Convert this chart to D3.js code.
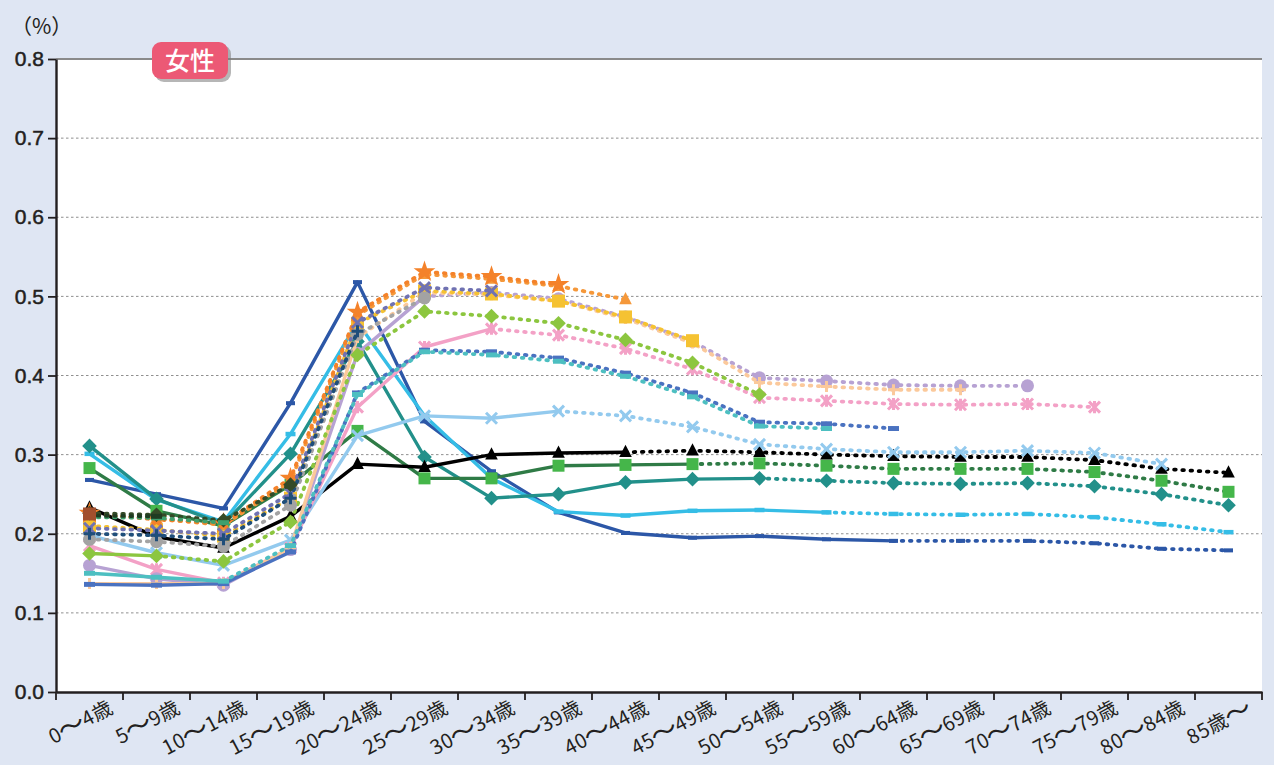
<!DOCTYPE html>
<html>
<head>
<meta charset="utf-8">
<script src="https://cdn.jsdelivr.net/npm/d3@7"></script>
<style>
  html, body { margin: 0; padding: 0; background: #dfe6f3; }
  svg { display: block; }
</style>
</head>
<body>
<svg id="chart" width="1274" height="765"></svg>
<script>
// ---------------- data ----------------
const categories = ["0〜4歳","5〜9歳","10〜14歳","15〜19歳","20〜24歳","25〜29歳","30〜34歳","35〜39歳","40〜44歳",
  "45〜49歳","50〜54歳","55〜59歳","60〜64歳","65〜69歳","70〜74歳","75〜79歳","80〜84歳","85歳〜"];
const yTicks = [0, 0.1, 0.2, 0.3, 0.4, 0.5, 0.6, 0.7, 0.8];
const unitLabel = "（%）";
const panelLabel = "女性";

const series01 = [0.268,0.250,0.232,0.365,0.518,0.342,0.279,0.227,0.201,0.195,0.197,0.193,0.191,0.191,0.191,0.188,0.181,0.179];
const series02 = [0.301,0.243,0.215,0.326,0.467,0.349,0.270,0.228,0.223,0.229,0.230,0.227,0.225,0.224,0.225,0.221,0.212,0.202];
const series03 = [0.311,0.244,0.212,0.301,0.443,0.297,0.245,0.250,0.265,0.269,0.270,0.267,0.264,0.263,0.264,0.260,0.250,0.236];
const series04 = [0.283,0.229,0.210,0.262,0.330,0.270,0.270,0.286,0.287,0.288,0.289,0.286,0.282,0.282,0.282,0.278,0.267,0.253];
const series05 = [0.233,0.196,0.182,0.222,0.288,0.284,0.300,0.302,0.303,0.305,0.303,0.300,0.298,0.297,0.297,0.293,0.282,0.277];
const series06 = [0.198,0.176,0.160,0.192,0.324,0.349,0.346,0.355,0.349,0.335,0.313,0.307,0.303,0.303,0.305,0.302,0.288,null];
const series07 = [0.185,0.155,0.138,0.182,0.360,0.436,0.459,0.451,0.434,0.408,0.372,0.368,0.364,0.363,0.364,0.360,null,null];
const series08 = [0.160,0.143,0.135,0.180,0.428,0.500,0.505,0.497,0.474,0.443,0.397,0.393,0.388,0.387,0.387,null,null,null];
const series09 = [0.137,0.137,0.137,0.182,0.448,0.505,0.502,0.494,0.472,0.441,0.391,0.386,0.382,0.382,null,null,null,null];
const series10 = [0.136,0.135,0.137,0.177,0.378,0.432,0.430,0.422,0.403,0.378,0.341,0.339,0.333,null,null,null,null,null];
const series11 = [0.150,0.145,0.140,0.185,0.376,0.430,0.426,0.418,0.399,0.373,0.336,0.333,null,null,null,null,null,null];
const series12 = [0.175,0.172,0.165,0.215,0.426,0.481,0.475,0.466,0.445,0.416,0.376,null,null,null,null,null,null,null];
const series13 = [0.210,0.205,0.197,0.245,0.466,0.507,0.503,0.494,0.474,0.444,null,null,null,null,null,null,null,null];
const series14 = [0.224,0.219,0.211,0.266,0.476,0.528,0.522,0.513,0.496,null,null,null,null,null,null,null,null,null];
const series15 = [0.226,0.218,0.213,0.270,0.480,0.531,0.525,0.515,null,null,null,null,null,null,null,null,null,null];
const series16 = [0.207,0.204,0.200,0.251,0.467,0.511,0.507,null,null,null,null,null,null,null,null,null,null,null];
const series17 = [0.193,0.190,0.184,0.236,0.452,0.498,null,null,null,null,null,null,null,null,null,null,null,null];
const series18 = [0.200,0.198,0.193,0.245,0.456,null,null,null,null,null,null,null,null,null,null,null,null,null];
const series19 = [0.226,0.224,0.217,0.262,null,null,null,null,null,null,null,null,null,null,null,null,null,null];
const series20 = [0.221,0.220,0.214,null,null,null,null,null,null,null,null,null,null,null,null,null,null,null];
const series21 = [0.223,0.222,null,null,null,null,null,null,null,null,null,null,null,null,null,null,null,null];
const series22 = [0.225,null,null,null,null,null,null,null,null,null,null,null,null,null,null,null,null,null];
// index of last observed (solid) age group for each series; -1 = all projected
const observedLast = [12,11,10,9,8,7,6,5,4,3,2,1,0,-1,-1,-1,-1,-1,-1,-1,-1,-1];

// ---------------- styles ----------------
const styles = [
  {data: series01, line:"#2c57a7", mfill:"#2c57a7", marker:"dash",     ms: 9},
  {data: series02, line:"#35bde6", mfill:"#35bde6", marker:"dash",     ms: 10},
  {data: series03, line:"#22908a", mfill:"#22908a", marker:"diamond",  ms: 12},
  {data: series04, line:"#2f7b46", mfill:"#45b64a", marker:"square",   ms: 12},
  {data: series05, line:"#000000", mfill:"#000000", marker:"triangle", ms: 12},
  {data: series06, line:"#93caee", mfill:"#93caee", marker:"x",        ms: 11},
  {data: series07, line:"#f3a1c6", mfill:"#f3a1c6", marker:"asterisk", ms: 11},
  {data: series08, line:"#b7a2d3", mfill:"#b7a2d3", marker:"circle",   ms: 13},
  {data: series09, line:"#fbc99b", mfill:"#fbc99b", marker:"plus",     ms: 11},
  {data: series10, line:"#4a72c0", mfill:"#4a72c0", marker:"dash",     ms: 11},
  {data: series11, line:"#4dbfc1", mfill:"#4dbfc1", marker:"dash",     ms: 11},
  {data: series12, line:"#8cc63f", mfill:"#8cc63f", marker:"diamond",  ms: 12},
  {data: series13, line:"#f5c232", mfill:"#f5c232", marker:"square",   ms: 13},
  {data: series14, line:"#f5983a", mfill:"#f5983a", marker:"triangle", ms: 12},
  {data: series15, line:"#f4822a", mfill:"#f4822a", marker:"star",     ms: 14},
  {data: series16, line:"#7072b2", mfill:"#7072b2", marker:"x",        ms: 11},
  {data: series17, line:"#a3a3a3", mfill:"#a3a3a3", marker:"circle",   ms: 13},
  {data: series18, line:"#1f4e7a", mfill:"#1f4e7a", marker:"plus",     ms: 12},
  {data: series19, line:"#344a27", mfill:"#344a27", marker:"diamond",  ms: 12},
  {data: series20, line:"#3fa06d", mfill:"#3fa06d", marker:"dash",     ms: 11},
  {data: series21, line:"#1f3c22", mfill:"#1f3c22", marker:"dash",     ms: 11},
  {data: series22, line:"#a24f2d", mfill:"#a24f2d", marker:"square",   ms: 13}
];

// ---------------- layout ----------------
const W = 1274, H = 765;
const plot = {left: 56, right: 1262, top: 59, bottom: 692};
const svg = d3.select("#chart");

svg.append("rect").attr("x",0).attr("y",0).attr("width",W).attr("height",H).attr("fill","#dfe6f3");
svg.append("rect").attr("x",plot.left).attr("y",plot.top)
  .attr("width",plot.right-plot.left).attr("height",plot.bottom-plot.top).attr("fill","#ffffff");

const x = d3.scaleBand().domain(categories).range([plot.left, plot.right]).padding(0);
const y = d3.scaleLinear().domain([0, 0.8]).range([plot.bottom, plot.top]);
const cx = c => x(c) + x.bandwidth()/2;

// gridlines
svg.append("g").selectAll("line").data(yTicks.filter(t => t > 0 && t < 0.8)).join("line")
  .attr("x1", plot.left).attr("x2", plot.right)
  .attr("y1", d => y(d)).attr("y2", d => y(d))
  .attr("stroke","#8f8f8f").attr("stroke-width",1).attr("stroke-dasharray","2.5,2.5");
// top border
svg.append("line").attr("x1",plot.left).attr("x2",plot.right).attr("y1",y(0.8)).attr("y2",y(0.8))
  .attr("stroke","#8a8a8a").attr("stroke-width",2);

// y axis
const yAxis = svg.append("g").attr("transform",`translate(${plot.left},0)`)
  .call(d3.axisLeft(y).tickValues(yTicks).tickFormat(d3.format(".1f")).tickSize(8).tickSizeOuter(0).tickPadding(4));
yAxis.select(".domain").attr("stroke","#231f20").attr("stroke-width",2.4);
yAxis.selectAll(".tick line").attr("stroke","#231f20").attr("stroke-width",1.8);
yAxis.selectAll(".tick text").attr("fill","#231f20").attr("stroke","#231f20").attr("stroke-width",0.5)
  .style("font-family","'Liberation Sans', Arial, sans-serif").style("font-size","21px");

// x axis
const xAxis = svg.append("g").attr("transform",`translate(0,${plot.bottom})`)
  .call(d3.axisBottom(x).tickSize(0).tickSizeOuter(0));
xAxis.select(".domain").attr("stroke","#231f20").attr("stroke-width",2.4);
xAxis.selectAll(".tick text")
  .attr("fill","#231f20")
  .style("font-family","'Noto Sans CJK JP', 'Liberation Sans', sans-serif").style("font-size","20px")
  .style("letter-spacing","0.5px")
  .attr("text-anchor","end").attr("x",0).attr("y",0).attr("dy",0)
  .attr("transform","translate(25,20) rotate(-28)");
// widen the wave dash to match the source typography
xAxis.selectAll(".tick text").each(function() {
  const t = d3.select(this);
  const s = t.text();
  t.text(null);
  s.split(/(〜)/).filter(p => p.length).forEach(p => {
    const ts = t.append("tspan").text(p);
    if (p === "〜") ts.style("font-size","27px").attr("dy", 2).attr("dx", -1);
    else if (ts.node().previousSibling) ts.attr("dy", -2).attr("dx", -1);
  });
});
const boundaries = categories.map(c => x(c)).concat([x.range()[1]]);
xAxis.append("g").selectAll("line").data(boundaries).join("line")
  .attr("x1", d => d).attr("x2", d => d).attr("y1", 0).attr("y2", 8)
  .attr("stroke","#231f20").attr("stroke-width",1.8);

// ---------------- markers ----------------
function markerPath(type, s) {
  const r = s/2;
  switch (type) {
    case "square":   return `M${-r},${-r}h${s}v${s}h${-s}Z`;
    case "diamond":  { const d = r*1.22; return `M0,${-d}L${d},0L0,${d}L${-d},0Z`; }
    case "triangle": return `M0,${-r*1.25}L${r*1.05},${r*0.8}L${-r*1.05},${r*0.8}Z`;
    case "circle":   return d3.symbol(d3.symbolCircle, Math.PI*r*r)();
    case "dash":     return `M${-r},${-r*0.45}h${s}v${r*0.9}h${-s}Z`;
    case "star":     return d3.symbol(d3.symbolStar, s*s*0.75)();
    case "x":        return `M${-r},${-r}L${r},${r}M${-r},${r}L${r},${-r}`;
    case "plus":     return `M${-r},0L${r},0M0,${-r}L0,${r}`;
    case "asterisk": return `M${-r},${-r}L${r},${r}M${-r},${r}L${r},${-r}M0,${-r*1.1}L0,${r*1.1}`;
  }
}
const strokeMarkers = new Set(["x","plus","asterisk"]);

const line = d3.line().defined(d => d.v != null).x(d => cx(d.c)).y(d => y(d.v));

const gSeries = svg.append("g");
styles.forEach((st, i) => {
  const pts = categories.map((c, k) => ({c, v: st.data[k]}));
  const lastIdx = d3.max(pts.map((p,k) => p.v != null ? k : -1));
  const sEnd = observedLast[i];
  const g = gSeries.append("g");
  const dashStart = Math.max(sEnd, 0);
  if (lastIdx > dashStart) {
    g.append("path").datum(pts.slice(dashStart, lastIdx+1)).attr("d", line)
      .attr("fill","none").attr("stroke", st.line).attr("stroke-width",3.8)
      .attr("stroke-linecap","round").attr("stroke-dasharray","1.6,6.6");
  }
  if (sEnd > 0) {
    g.append("path").datum(pts.slice(0, sEnd+1)).attr("d", line)
      .attr("fill","none").attr("stroke", st.line).attr("stroke-width",3.4)
      .attr("stroke-linejoin","round");
  }
  const isStroke = strokeMarkers.has(st.marker);
  g.selectAll("path.mk").data(pts.filter(p => p.v != null)).join("path")
    .attr("class","mk")
    .attr("transform", d => `translate(${cx(d.c)},${y(d.v)})`)
    .attr("d", markerPath(st.marker, st.ms))
    .attr("fill", isStroke ? "none" : st.mfill)
    .attr("stroke", isStroke ? st.mfill : "none")
    .attr("stroke-width", isStroke ? 3 : 0);
});

// ---------------- labels ----------------
svg.append("text").attr("x", 11).attr("y", 34).text(unitLabel)
  .attr("fill","#231f20").style("font-family","'Noto Sans CJK JP', sans-serif").style("font-size","21px");

const badge = svg.append("g").attr("transform","translate(152,42)");
badge.append("rect").attr("x",3).attr("y",3).attr("width",76).attr("height",37).attr("rx",9)
  .attr("fill","#7a7a7a").attr("opacity",0.55);
badge.append("rect").attr("x",0).attr("y",0).attr("width",76).attr("height",37).attr("rx",9)
  .attr("fill","#ec5975");
badge.append("text").attr("x",38).attr("y",28).attr("text-anchor","middle").text(panelLabel)
  .attr("fill","#ffffff").style("font-family","'Noto Sans CJK JP', sans-serif")
  .style("font-size","25px").style("font-weight","500");
</script>
</body>
</html>
